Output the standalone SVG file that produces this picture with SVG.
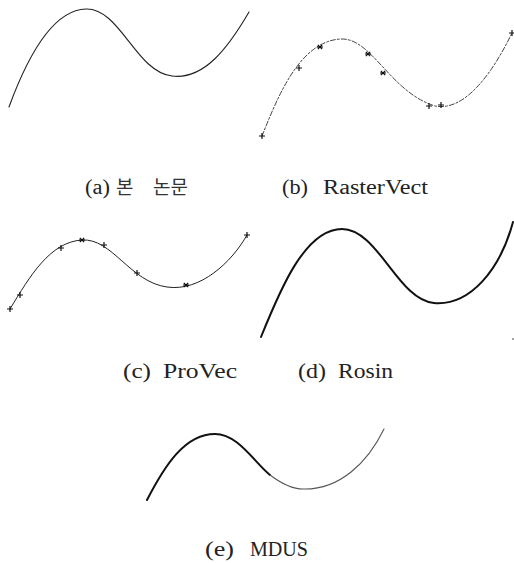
<svg xmlns="http://www.w3.org/2000/svg" width="514" height="563" viewBox="0 0 514 563">
<style>
.lbl{font-family:"Liberation Serif","Noto Sans CJK KR",serif;font-size:20px;fill:#222}
.ko{font-family:"Noto Sans CJK KR","Liberation Serif",sans-serif;font-size:19px;fill:#333}
.c{fill:none;stroke-linecap:round;stroke-linejoin:round}
.mk{stroke:#111;stroke-width:1.2;fill:none}
</style>
<defs>
<path id="plus" d="M-3,0H3M0,-3V3" class="mk"/>
<path id="star" d="M-3,0H3M-2.2,-2.2L2.2,2.2M-2.2,2.2L2.2,-2.2" class="mk"/>
</defs>
<rect width="514" height="563" fill="#fff"/>
<g id="a">
<path class="c" stroke="#222" stroke-width="1.1" d="M9,107 C24,66 50,10 86,9 C120,8 136,72 172,76 C204,80 228,48 249,12"/>
<text class="lbl" x="85" y="194" textLength="25" lengthAdjust="spacingAndGlyphs">(a)</text>
<text class="ko" x="116" y="194">본</text>
<text class="ko" x="153" y="194">논문</text>
</g>
<g id="b">
<path class="c" stroke="#444" stroke-width="1" stroke-dasharray="5,2,2,2" d="M262,136 C278,96 300,41 341,39 C372,38 390,92 435,106 C466,112 494,70 512,33"/>
<use href="#plus" x="262" y="136"/><use href="#plus" x="299" y="68"/><use href="#star" x="320" y="47"/><use href="#star" x="368" y="54"/><use href="#star" x="383" y="73"/><use href="#plus" x="429" y="106"/><use href="#plus" x="441" y="105"/><use href="#plus" x="512" y="33"/>
<text class="lbl" x="282" y="194" textLength="26" lengthAdjust="spacingAndGlyphs">(b)</text>
<text class="lbl" x="323" y="194" textLength="105" lengthAdjust="spacingAndGlyphs">RasterVect</text>
</g>
<g id="c">
<path class="c" stroke="#222" stroke-width="1" d="M10,309 C30,276 50,242 82,240 C112,238 130,282 167,287 C200,292 232,262 247,235"/>
<use href="#plus" x="10" y="309"/><use href="#plus" x="20" y="295"/><use href="#plus" x="61" y="248"/><use href="#star" x="82" y="240"/><use href="#plus" x="104" y="245"/><use href="#plus" x="137" y="273"/><use href="#star" x="186" y="285"/><use href="#plus" x="247" y="235"/>
<text class="lbl" x="123" y="378" textLength="28" lengthAdjust="spacingAndGlyphs">(c)</text>
<text class="lbl" x="163" y="378" textLength="74" lengthAdjust="spacingAndGlyphs">ProVec</text>
</g>
<g id="d">
<path class="c" stroke="#111" stroke-width="2" d="M261,337 C280,290 305,229 342,229 C378,229 398,300 434,303 C470,306 500,270 513,222"/>
<circle cx="513" cy="339" r="0.8" fill="#333"/>
<text class="lbl" x="298" y="378" textLength="28" lengthAdjust="spacingAndGlyphs">(d)</text>
<text class="lbl" x="338" y="378" textLength="55" lengthAdjust="spacingAndGlyphs">Rosin</text>
</g>
<g id="e">
<path class="c" stroke="#111" stroke-width="2" d="M147,500 C165,465 185,434 215,434 C238,434 254,462 270,475"/>
<path class="c" stroke="#555" stroke-width="1.1" d="M270,475 C282,484 292,489 303,489 C340,490 368,462 384,429"/>
<text class="lbl" x="205" y="556" textLength="29" lengthAdjust="spacingAndGlyphs">(e)</text>
<text class="lbl" x="250" y="556" textLength="58" lengthAdjust="spacingAndGlyphs">MDUS</text>
</g>
</svg>
